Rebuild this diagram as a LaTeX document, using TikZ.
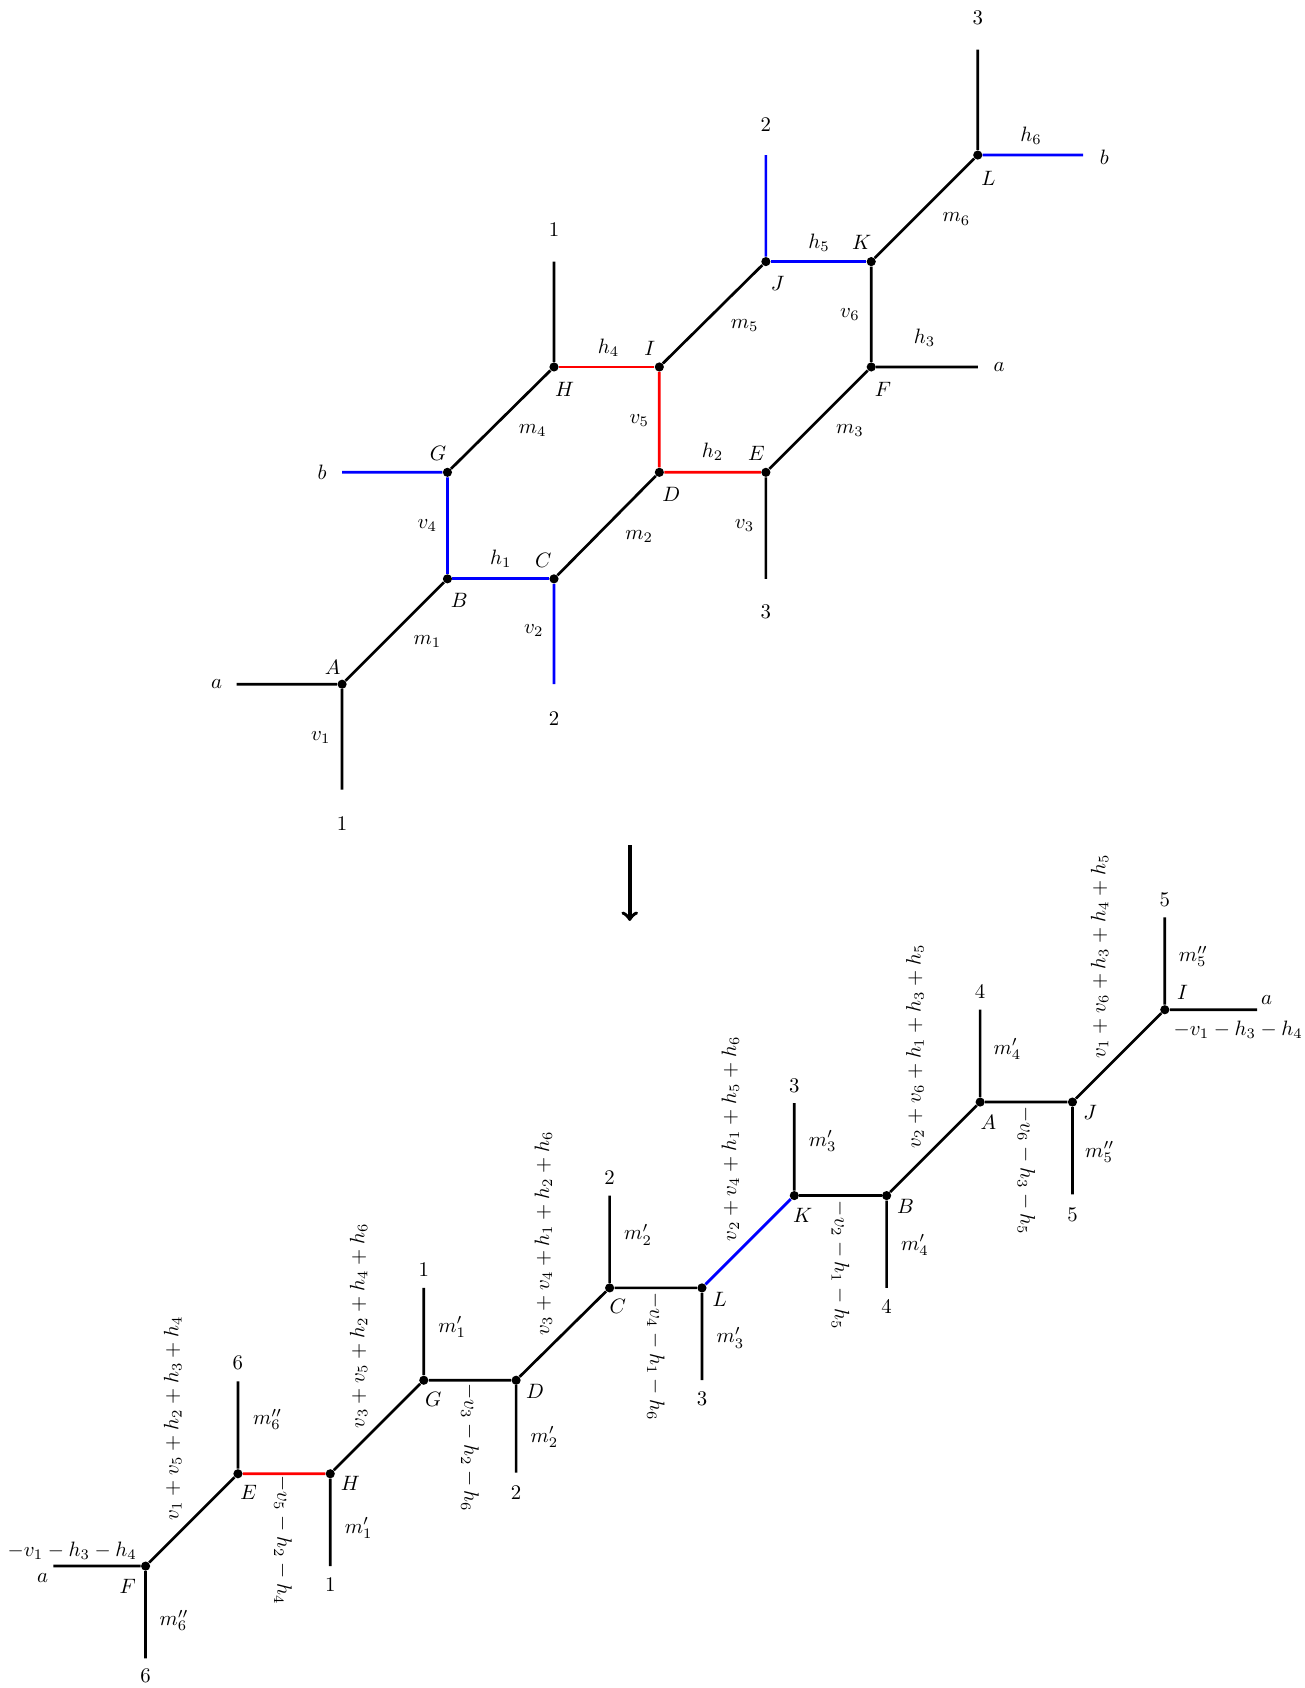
\documentclass[tikz,border=0pt]{standalone}
\usepackage{amsmath}
\begin{document}
\begin{tikzpicture}[scale=0.2]
    \tikzstyle{every node}+=[inner sep=0pt]
    \tikzstyle{vertex}=[circle, fill=black, minimum size=4.4pt]
    \tikzstyle{edge}=[line width=1.3pt]
    \useasboundingbox (0,0) rectangle (110.2,-142.6);
        % before the move
        \node [vertex] (A) at (28.9,-57.8) {};
        \node [vertex] (B) at (37.8,-48.9) {};
        \node [vertex] (C) at (46.8,-48.9) {};
        \node [vertex] (D) at (55.7,-39.9) {};
        \node [vertex] (E) at (64.7,-39.9) {};
        \node [vertex] (F) at (73.6,-31.0) {};
        \node [vertex] (G) at (37.8,-39.9) {};
        \node [vertex] (H) at (46.8,-31.0) {};
        \node [vertex] (I) at (55.7,-31.0) {};
        \node [vertex] (J) at (64.7,-22.1) {};
        \node [vertex] (K) at (73.6,-22.1) {};
        \node [vertex] (L) at (82.6,-13.1) {};
        \coordinate (Aw) at (20.0,-57.8);
        \coordinate (As) at (28.9,-66.7);
        \coordinate (Cs) at (46.8,-57.8);
        \coordinate (Es) at (64.7,-48.9);
        \coordinate (Gw) at (28.9,-39.9);
        \coordinate (Hn) at (46.8,-22.1);
        \coordinate (Jn) at (64.7,-13.1);
        \coordinate (Fe) at (82.6,-31.0);
        \coordinate (Ln) at (82.6,-4.2);
        \coordinate (Le) at (91.5,-13.1);
        \draw [edge] (A) -- (B);
        \draw [edge] (C) -- (D);
        \draw [edge] (E) -- (F);
        \draw [edge] (G) -- (H);
        \draw [edge] (I) -- (J);
        \draw [edge] (K) -- (L);
        \draw [edge] (K) -- (F);
        \draw [edge, blue] (B) -- (C);
        \draw [edge, blue] (B) -- (G);
        \draw [edge, blue] (J) -- (K);
        \draw [edge, red] (H) -- (I);
        \draw [edge, red] (I) -- (D);
        \draw [edge, red] (D) -- (E);
        \draw [edge] (A) -- (Aw);
        \draw [edge] (A) -- (As);
        \draw [edge, blue] (C) -- (Cs);
        \draw [edge] (E) -- (Es);
        \draw [edge, blue] (G) -- (Gw);
        \draw [edge] (H) -- (Hn);
        \draw [edge, blue] (J) -- (Jn);
        \draw [edge] (F) -- (Fe);
        \draw [edge] (L) -- (Ln);
        \draw [edge, blue] (L) -- (Le);
        \draw (28.1,-56.4) node (tA) {$A$};
        \draw (38.8,-50.7) node (tB) {$B$};
        \draw (45.9,-47.3) node (tC) {$C$};
        \draw (56.7,-41.8) node (tD) {$D$};
        \draw (63.9,-38.3) node (tE) {$E$};
        \draw (74.6,-32.9) node (tF) {$F$};
        \draw (37.0,-38.3) node (tG) {$G$};
        \draw (47.7,-32.9) node (tH) {$H$};
        \draw (54.9,-29.4) node (tI) {$I$};
        \draw (65.7,-23.9) node (tJ) {$J$};
        \draw (72.8,-20.5) node (tK) {$K$};
        \draw (83.5,-15.1) node (tL) {$L$};
        \draw (36.1,-54.2) node (m1) {$m_1$};
        \draw (54.0,-45.3) node (m2) {$m_2$};
        \draw (71.8,-36.4) node (m3) {$m_3$};
        \draw (45.0,-36.4) node (m4) {$m_4$};
        \draw (62.9,-27.5) node (m5) {$m_5$};
        \draw (80.8,-18.5) node (m6) {$m_6$};
        \draw (42.3,-47.2) node (h1) {$h_1$};
        \draw (60.2,-38.2) node (h2) {$h_2$};
        \draw (78.1,-28.5) node (h3) {$h_3$};
        \draw (51.4,-29.4) node (h4) {$h_4$};
        \draw (69.2,-20.5) node (h5) {$h_5$};
        \draw (87.1,-11.5) node (h6) {$h_6$};
        \draw (27.1,-62.3) node (v1) {$v_1$};
        \draw (45.1,-53.3) node (v2) {$v_2$};
        \draw (62.9,-44.4) node (v3) {$v_3$};
        \draw (36.1,-44.4) node (v4) {$v_4$};
        \draw (54.0,-35.5) node (v5) {$v_5$};
        \draw (71.8,-26.6) node (v6) {$v_6$};
        \draw (18.3,-57.8) node (ea1) {$a$};
        \draw (28.9,-69.6) node (e11) {$1$};
        \draw (27.2,-39.9) node (eb1) {$b$};
        \draw (46.8,-60.7) node (e21) {$2$};
        \draw (64.7,-51.7) node (e31) {$3$};
        \draw (46.8,-19.4) node (e12) {$1$};
        \draw (64.7,-10.5) node (e22) {$2$};
        \draw (84.4,-31.0) node (ea2) {$a$};
        \draw (82.6,-1.5) node (e32) {$3$};
        \draw (93.3,-13.3) node (eb2) {$b$};
        % the move
        \coordinate (arr1) at (53.2,-71.4);
        \coordinate (arr2) at (53.2,-77.8);
        \draw [line width=1.8pt, ->] (arr1) -- (arr2);
        % after the move
        \node [vertex] (F2) at (12.3,-132.3) {};
        \node [vertex] (E2) at (20.1,-124.5) {};
        \node [vertex] (H2) at (27.9,-124.5) {};
        \node [vertex] (G2) at (35.8,-116.6) {};
        \node [vertex] (D2) at (43.6,-116.6) {};
        \node [vertex] (C2) at (51.5,-108.8) {};
        \node [vertex] (L2) at (59.3,-108.8) {};
        \node [vertex] (K2) at (67.1,-101.0) {};
        \node [vertex] (B2) at (74.9,-101.0) {};
        \node [vertex] (A2) at (82.8,-93.1) {};
        \node [vertex] (J2) at (90.6,-93.1) {};
        \node [vertex] (I2) at (98.4,-85.3) {};
        \coordinate (F2w) at (4.5,-132.3);
        \coordinate (F2s) at (12.3,-140.1);
        \coordinate (E2n) at (20.1,-116.7);
        \coordinate (H2s) at (27.9,-132.3);
        \coordinate (G2n) at (35.8,-108.8);
        \coordinate (D2s) at (43.6,-124.4);
        \coordinate (C2n) at (51.5,-101.0);
        \coordinate (L2s) at (59.3,-116.6);
        \coordinate (K2n) at (67.1,-93.2);
        \coordinate (B2s) at (74.9,-108.8);
        \coordinate (A2n) at (82.8,-85.3);
        \coordinate (J2s) at (90.6,-100.9);
        \coordinate (I2n) at (98.4,-77.5);
        \coordinate (I2e) at (106.2,-85.3);
        \draw [edge] (F2) -- (E2);
        \draw [edge, red] (E2) -- (H2);
        \draw [edge] (H2) -- (G2);
        \draw [edge] (G2) -- (D2);
        \draw [edge] (D2) -- (C2);
        \draw [edge] (C2) -- (L2);
        \draw [edge, blue] (L2) -- (K2);
        \draw [edge] (K2) -- (B2);
        \draw [edge] (B2) -- (A2);
        \draw [edge] (A2) -- (J2);
        \draw [edge] (J2) -- (I2);
        \draw [edge] (F2) -- (F2w);
        \draw [edge] (F2) -- (F2s);
        \draw [edge] (E2) -- (E2n);
        \draw [edge] (H2) -- (H2s);
        \draw [edge] (G2) -- (G2n);
        \draw [edge] (D2) -- (D2s);
        \draw [edge] (C2) -- (C2n);
        \draw [edge] (L2) -- (L2s);
        \draw [edge] (K2) -- (K2n);
        \draw [edge] (B2) -- (B2s);
        \draw [edge] (A2) -- (A2n);
        \draw [edge] (J2) -- (J2s);
        \draw [edge] (I2) -- (I2n);
        \draw [edge] (I2) -- (I2e);
        \draw (10.8,-134.0) node (tF2) {$F$};
        \draw (21.0,-126.1) node (tE2) {$E$};
        \draw (29.6,-125.3) node (tH2) {$H$};
        \draw (36.6,-118.2) node (tG2) {$G$};
        \draw (45.2,-117.5) node (tD2) {$D$};
        \draw (52.2,-110.4) node (tC2) {$C$};
        \draw (60.8,-109.8) node (tL2) {$L$};
        \draw (67.8,-102.7) node (tK2) {$K$};
        \draw (76.5,-101.9) node (tB2) {$B$};
        \draw (83.5,-94.8) node (tA2) {$A$};
        \draw (92.1,-94.0) node (tJ2) {$J$};
        \draw (99.9,-83.8) node (tI2) {$I$};
        \draw (3.6,-133.3) node (fa1) {$a$};
        \draw (6.1,-131.0) node (fm1) {$-v_1-h_3-h_4$};
        \draw (107.0,-84.5) node (fa2) {$a$};
        \draw (104.6,-87.0) node (fm2) {$-v_1-h_3-h_4$};
        \draw (12.3,-141.6) node (f61) {$6$};
        \draw (14.7,-136.9) node (q61) {$m''_6$};
        \draw (20.1,-115.1) node (f62) {$6$};
        \draw (22.6,-119.9) node (q62) {$m''_6$};
        \draw (27.9,-133.9) node (f11) {$1$};
        \draw (30.3,-129.1) node (q11) {$m'_1$};
        \draw (35.8,-107.3) node (f12) {$1$};
        \draw (38.2,-112.1) node (q12) {$m'_1$};
        \draw (43.6,-126.1) node (f21) {$2$};
        \draw (46.0,-121.4) node (q21) {$m'_2$};
        \draw (51.5,-99.5) node (f22) {$2$};
        \draw (53.9,-104.3) node (q22) {$m'_2$};
        \draw (59.3,-118.2) node (f31) {$3$};
        \draw (61.7,-113.0) node (q31) {$m'_3$};
        \draw (67.1,-91.7) node (f32) {$3$};
        \draw (69.5,-96.4) node (q32) {$m'_3$};
        \draw (74.9,-110.4) node (f41) {$4$};
        \draw (77.3,-105.2) node (q41) {$m'_4$};
        \draw (82.8,-83.8) node (f42) {$4$};
        \draw (85.1,-88.6) node (q42) {$m'_4$};
        \draw (90.6,-102.6) node (f51) {$5$};
        \draw (92.9,-97.3) node (q51) {$m''_5$};
        \draw (98.4,-76.0) node (f52) {$5$};
        \draw (100.8,-80.8) node (q52) {$m''_5$};
        \draw (14.6,-119.8) node (dFE) [rotate=90] {$v_1+v_5+h_2+h_3+h_4$};
        \draw (30.3,-112.0) node (dHG) [rotate=90] {$v_3+v_5+h_2+h_4+h_6$};
        \draw (45.9,-104.2) node (dDC) [rotate=90] {$v_3+v_4+h_1+h_2+h_6$};
        \draw (61.7,-96.2) node (dLK) [rotate=90] {$v_2+v_4+h_1+h_5+h_6$};
        \draw (77.3,-88.4) node (dBA) [rotate=90] {$v_2+v_6+h_1+h_3+h_5$};
        \draw (92.9,-80.8) node (dJI) [rotate=90] {$v_1+v_6+h_3+h_4+h_5$};
        \draw (23.9,-130.1) node (gEH) [rotate=-90] {$-v_5-h_2-h_4$};
        \draw (39.7,-122.3) node (gGD) [rotate=-90] {$-v_3-h_2-h_6$};
        \draw (55.4,-114.6) node (gCL) [rotate=-90] {$-v_4-h_1-h_6$};
        \draw (71.0,-106.9) node (gKB) [rotate=-90] {$-v_2-h_1-h_5$};
        \draw (86.7,-98.9) node (gAJ) [rotate=-90] {$-v_6-h_3-h_5$};
    \end{tikzpicture}
\end{document}
